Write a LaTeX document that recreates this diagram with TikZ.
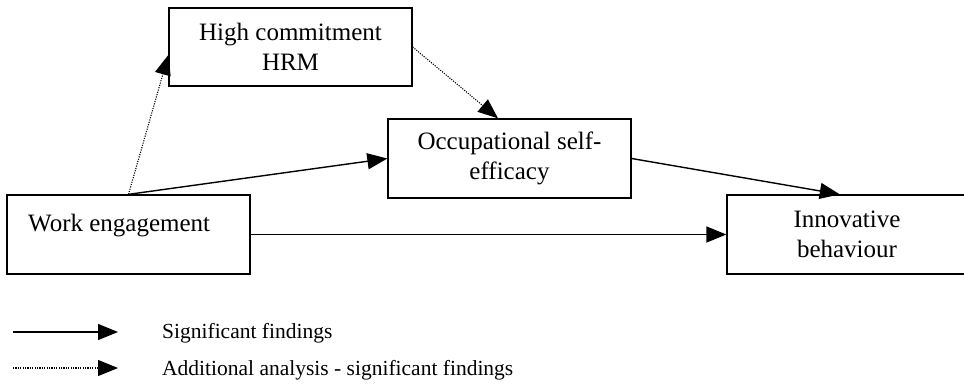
\documentclass[tikz,border=0pt]{standalone}
\usepackage{fontspec}
\setmainfont{Liberation Serif}
\usetikzlibrary{arrows.meta,calc}
\begin{document}
\begin{tikzpicture}[x=1pt,y=-1pt,
  box/.style={draw, line width=1.3pt, inner sep=0pt, align=center, font=\fontsize{25}{29.5}\selectfont},
  tipstyle/.style={-{Triangle[length=20pt,width=16pt]}},
  solidline/.style={line width=1.4pt, tipstyle},
  dottedline/.style={line width=1.1pt, dash pattern=on 1.1pt off 1.3pt, tipstyle},
  lbl/.style={inner sep=0pt, anchor=base west, font=\fontsize{21.5}{25}\selectfont},
  boxtext/.style={inner sep=0pt, anchor=base west, font=\fontsize{25}{29.5}\selectfont}]
\useasboundingbox (0,0) rectangle (964,391);

\node[box, minimum width=243pt, minimum height=78pt] (hrm) at (290.5,47) {High commitment\\HRM};
\node[box, minimum width=243pt, minimum height=79pt] (ose) at (509.5,158.5) {Occupational self-\\efficacy};
\node[box, minimum width=243pt, minimum height=79pt] (we) at (128.5,234.5) {};
\node[boxtext] (wet) at (28,231) {Work engagement};
\node[box, minimum width=240pt, minimum height=79pt] (ib) at (847,234.5) {Innovative\\behaviour};

\draw[dottedline] (we.north) -- ($(hrm.north west)!0.6!(hrm.south west)$);
\draw[solidline] (we.north) -- (ose.west);
\draw[dottedline] (hrm.east) -- ($(ose.north west)!0.453!(ose.north east)$);
\draw[solidline] (ose.east) -- ($(ib.north west)!0.47!(ib.north east)$);
\draw[solidline] (we.east) -- (ib.west);

\coordinate (l1a) at (13,332);
\coordinate (l1b) at (118,332);
\draw[solidline] (l1a) -- (l1b);
\node[lbl] (l1t) at (162,338) {Significant findings};

\coordinate (l2a) at (13,368);
\coordinate (l2b) at (118,368);
\draw[dottedline] (l2a) -- (l2b);
\node[lbl] (l2t) at (162,375) {Additional analysis - significant findings};
\end{tikzpicture}
\end{document}
